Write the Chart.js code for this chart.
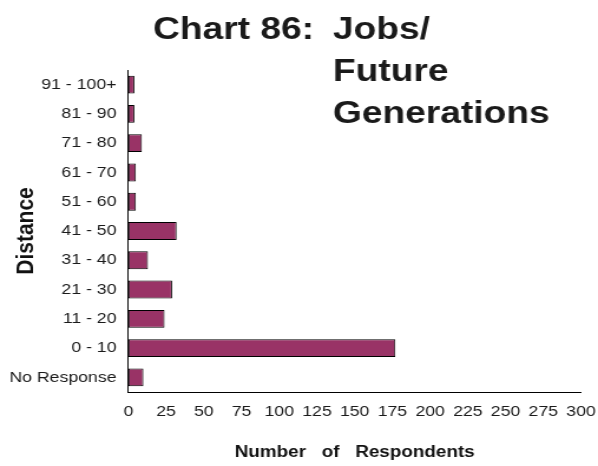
<!DOCTYPE html>
<html>
<head>
<meta charset="utf-8">
<script src="https://cdn.jsdelivr.net/npm/chart.js@4/dist/chart.umd.min.js"></script>
<style>
  html, body { margin: 0; padding: 0; background: #fff; overflow: hidden; }
  #wrap { width: 507px; height: 466px; transform: scaleX(1.17949); transform-origin: 0 0; }
  canvas { display: block; }
</style>
</head>
<body>
<div id="wrap"><canvas id="c" width="507" height="466"></canvas></div>
<script>
// Data (top to bottom as drawn)
const categories = ['91 - 100+', '81 - 90', '71 - 80', '61 - 70', '51 - 60', '41 - 50', '31 - 40', '21 - 30', '11 - 20', '0 - 10', 'No Response'];
const respondents = [4, 4, 9, 5, 5, 32, 13, 29, 24, 177, 10];
const xMin = 0, xMax = 300, xStep = 25;
const titleLines = ['Chart 86:', 'Jobs/', 'Future', 'Generations'];
const xTitle = 'Number   of   Respondents';
const yTitle = 'Distance';

const FONT = '"Liberation Sans", Arial, Helvetica, sans-serif';

const titlePlugin = {
  id: 'customTitle',
  afterDraw(chart) {
    const ctx = chart.ctx;
    ctx.save();
    ctx.fillStyle = '#1a1a1a';
    ctx.font = 'bold 31.5px ' + FONT;
    ctx.textAlign = 'left';
    ctx.textBaseline = 'alphabetic';
    ctx.fillText(titleLines[0], 129.7, 39);
    ctx.fillText(titleLines[1], 282.3, 39);
    ctx.fillText(titleLines[2], 282.3, 81);
    ctx.fillText(titleLines[3], 282.3, 123);
    ctx.restore();
  }
};

new Chart(document.getElementById('c'), {
  type: 'bar',
  data: {
    labels: categories,
    datasets: [{
      data: respondents,
      backgroundColor: '#993366',
      borderColor: '#000000',
      borderWidth: 1,
      borderSkipped: false,
      barPercentage: 0.61,
      categoryPercentage: 1.0
    }]
  },
  options: {
    indexAxis: 'y',
    responsive: false,
    animation: false,
    devicePixelRatio: 1,
    layout: { padding: { top: 70, right: 14.4, bottom: 0, left: 0 } },
    plugins: {
      legend: { display: false },
      tooltip: { enabled: false },
      title: { display: false }
    },
    scales: {
      x: {
        min: xMin, max: xMax,
        grid: { display: false, drawTicks: false },
        border: { display: true, color: '#000', width: 1 },
        ticks: { stepSize: xStep, color: '#1a1a1a', font: { family: FONT, size: 15 }, padding: 11, maxRotation: 0, autoSkip: false },
        title: { display: true, text: xTitle, color: '#111', font: { family: FONT, size: 16, weight: 'bold' }, padding: { top: 0, bottom: 4 } },
        afterFit(scale) { scale.height = 74; scale.paddingLeft = 0; scale.paddingRight = 0; }
      },
      y: {
        grid: { display: false, drawTicks: false },
        border: { display: true, color: '#000', width: 1 },
        ticks: { color: '#1a1a1a', font: { family: FONT, size: 15 }, padding: 10, autoSkip: false },
        title: { display: true, text: yTitle, color: '#111', font: { family: FONT, size: 21, weight: 'bold' }, padding: { top: 10, bottom: 0 } },
        afterFit(scale) { scale.width = 108.8; scale.paddingTop = 0; scale.paddingBottom = 0; }
      }
    }
  },
  plugins: [titlePlugin]
});
</script>
</body>
</html>
